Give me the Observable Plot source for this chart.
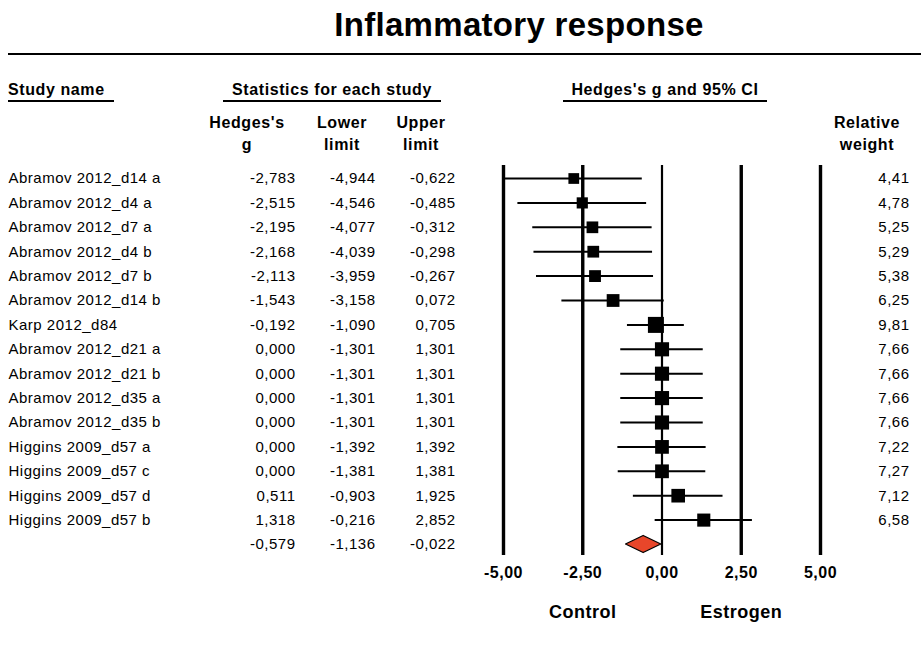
<!DOCTYPE html>
<html>
<head>
<meta charset="utf-8">
<script src="https://cdn.jsdelivr.net/npm/d3@7"></script>
<script src="https://cdn.jsdelivr.net/npm/@observablehq/plot@0.6"></script>
<style>
  body { margin: 0; background: #fff; }
  #wrap { position: relative; width: 921px; height: 647px; overflow: hidden;
          font-family: "Liberation Sans", Arial, sans-serif; color: #000; background: #fff; }
  .h { position: absolute; font-weight: bold; white-space: nowrap; line-height: 1; letter-spacing: 0.6px; }
  .sub { position: absolute; font-weight: bold; font-size: 16px; line-height: 22px; text-align: center; width: 120px; letter-spacing: 0.6px; }
  .bar { position: absolute; background: #000; }
  #chart { position: absolute; left: 0; top: 160px; }
  #chart svg text { letter-spacing: 0.5px; }
</style>
</head>
<body>
<div id="wrap">
  <div class="h" style="left:319px; width:400px; text-align:center; top:8px; font-size:33px; letter-spacing:0.3px;">Inflammatory response</div>
  <div class="bar" style="left:8px; width:913px; top:52.5px; height:2.5px;"></div>

  <div class="h" style="left:8px; top:81.5px; font-size:16px;">Study name</div>
  <div class="bar" style="left:8px; width:106px; top:99.5px; height:2.5px;"></div>

  <div class="h" style="left:223px; width:218px; text-align:center; top:81.5px; font-size:16px;">Statistics for each study</div>
  <div class="bar" style="left:223px; width:218px; top:99.5px; height:2.5px;"></div>

  <div class="h" style="left:563px; width:204px; text-align:center; top:81.5px; font-size:16px;">Hedges's g and 95% CI</div>
  <div class="bar" style="left:563px; width:204px; top:99.5px; height:2.5px;"></div>

  <div class="sub" style="left:187px; top:112.2px;">Hedges's<br>g</div>
  <div class="sub" style="left:282px; top:112.2px;">Lower<br>limit</div>
  <div class="sub" style="left:361px; top:112.2px;">Upper<br>limit</div>
  <div class="sub" style="left:807px; top:112.2px;">Relative<br>weight</div>

  <div id="chart"></div>
</div>
<script>
// ---- Data ----
const studies = [
  "Abramov 2012_d14 a", "Abramov 2012_d4 a", "Abramov 2012_d7 a", "Abramov 2012_d4 b",
  "Abramov 2012_d7 b", "Abramov 2012_d14 b", "Karp 2012_d84", "Abramov 2012_d21 a",
  "Abramov 2012_d21 b", "Abramov 2012_d35 a", "Abramov 2012_d35 b", "Higgins 2009_d57 a",
  "Higgins 2009_d57 c", "Higgins 2009_d57 d", "Higgins 2009_d57 b"
];
const hedgesG = [-2.783, -2.515, -2.195, -2.168, -2.113, -1.543, -0.192, 0, 0, 0, 0, 0, 0, 0.511, 1.318];
const lowerLimit = [-4.944, -4.546, -4.077, -4.039, -3.959, -3.158, -1.090, -1.301, -1.301, -1.301, -1.301, -1.392, -1.381, -0.903, -0.216];
const upperLimit = [-0.622, -0.485, -0.312, -0.298, -0.267, 0.072, 0.705, 1.301, 1.301, 1.301, 1.301, 1.392, 1.381, 1.925, 2.852];
const relWeight = [4.41, 4.78, 5.25, 5.29, 5.38, 6.25, 9.81, 7.66, 7.66, 7.66, 7.66, 7.22, 7.27, 7.12, 6.58];
const summaryG = -0.579;
const summaryLower = -1.136;
const summaryUpper = -0.022;
const xTicks = [-5, -2.5, 0, 2.5, 5];
const sideLabels = ["Control", "Estrogen"];
const sideLabelAt = [-2.5, 2.5];

// ---- Tables ----
const rows = studies.map((s, i) => ({
  i, study: s, g: hedgesG[i], lower: lowerLimit[i], upper: upperLimit[i], weight: relWeight[i]
}));
const summaryIndex = rows.length;
const statRows = rows.concat([{ i: summaryIndex, g: summaryG, lower: summaryLower, upper: summaryUpper }]);
const diamondHalf = 0.35;
const diamond = [
  { y: summaryIndex - diamondHalf, x1: summaryG, x2: summaryG },
  { y: summaryIndex, x1: summaryLower, x2: summaryUpper },
  { y: summaryIndex + diamondHalf, x1: summaryG, x2: summaryG }
];
const sides = sideLabels.map((t, k) => ({ t, x: sideLabelAt[k] }));

const fmt3 = v => v.toFixed(3).replace(".", ",");
const fmt2 = v => v.toFixed(2).replace(".", ",");
const font = "Liberation Sans, Arial, sans-serif";

const chart = Plot.plot({
  width: 921,
  height: 487,
  margin: 0,
  x: { domain: [-5, 5], range: [503, 820], axis: null },
  y: { domain: [0, 15], range: [18, 384], axis: null },
  r: { type: "sqrt", domain: [0, 9.81], range: [0, 9.03] },
  style: { fontFamily: font, fontSize: "15px", background: "white", color: "black", overflow: "visible" },
  marks: [
    Plot.ruleX(xTicks.filter(d => d !== 0), { x: d => d, y1: () => -0.53, y2: () => 15.45, stroke: "black", strokeWidth: 3.4 }),
    Plot.ruleX(xTicks.filter(d => d === 0), { x: d => d, y1: () => -0.53, y2: () => 15.45, stroke: "black", strokeWidth: 2.2 }),
    Plot.ruleY(rows, { y: "i", x1: "lower", x2: "upper", stroke: "black", strokeWidth: 2 }),
    Plot.dot(rows, { x: "g", y: "i", r: "weight", symbol: "square", fill: "black", stroke: null }),
    Plot.areaX(diamond, { y: "y", x1: "x1", x2: "x2", fill: "#e8462a", stroke: "black", strokeWidth: 1.2 }),
    // study names
    Plot.text(rows, { y: "i", text: "study", frameAnchor: "left", dx: 8, textAnchor: "start", fill: "black" }),
    // statistics
    Plot.text(statRows, { y: "i", text: d => fmt3(d.g), frameAnchor: "left", dx: 295, textAnchor: "end", fill: "black" }),
    Plot.text(statRows, { y: "i", text: d => fmt3(d.lower), frameAnchor: "left", dx: 375, textAnchor: "end", fill: "black" }),
    Plot.text(statRows, { y: "i", text: d => fmt3(d.upper), frameAnchor: "left", dx: 455, textAnchor: "end", fill: "black" }),
    Plot.text(rows, { y: "i", text: d => fmt2(d.weight), frameAnchor: "left", dx: 909, textAnchor: "end", fill: "black" }),
    // axis tick labels
    Plot.text(xTicks, { x: d => d, text: d => fmt2(d), frameAnchor: "top", dy: 412, lineAnchor: "middle", fontWeight: "bold", fontSize: 16, fill: "black" }),
    // side labels
    Plot.text(sides, { x: "x", text: "t", frameAnchor: "top", dy: 452, lineAnchor: "middle", fontWeight: "bold", fontSize: 18, fill: "black" })
  ]
});
document.getElementById("chart").appendChild(chart);
</script>
</body>
</html>
